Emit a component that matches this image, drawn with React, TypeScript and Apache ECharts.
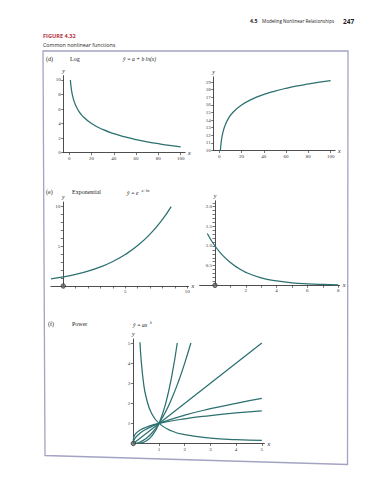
import React, { useEffect, useRef } from 'react';
import * as echarts from 'echarts';

// ---- data ----
const logX = [1, 1.2, 1.5, 2, 3, 5, 8, 12, 20, 30, 40, 50, 60, 70, 80, 90, 100];
const logFalling = [10, 9.64, 9.19, 8.61, 7.8, 6.78, 5.84, 5.03, 4.01, 3.2, 2.62, 2.18, 1.81, 1.5, 1.24, 1.0, 0.79];
const logRising = [10, 10.36, 10.81, 11.39, 12.2, 13.22, 14.16, 14.97, 15.99, 16.8, 17.38, 17.82, 18.19, 18.5, 18.76, 19.0, 19.21];

const expGrowX = [-1, 0, 1, 2, 3, 4, 5, 6, 7, 8, 8.7];
const expGrowY = [0.88, 1.13, 1.45, 1.86, 2.39, 3.07, 3.94, 5.05, 6.49, 8.33, 9.93];
const expDecayX = [-0.5, 0, 0.5, 1, 1.5, 2, 3, 4, 5, 6, 7, 8];
const expDecayY = [1.32, 1.0, 0.76, 0.58, 0.44, 0.33, 0.19, 0.11, 0.064, 0.037, 0.021, 0.012];

const powCubeX = [0, 0.25, 0.5, 0.75, 1, 1.25, 1.5, 1.71];
const powCubeY = [0, 0.016, 0.125, 0.42, 1, 1.95, 3.38, 5.0];
const powSquareX = [0, 0.25, 0.5, 0.75, 1, 1.25, 1.5, 1.75, 2, 2.24];
const powSquareY = [0, 0.063, 0.25, 0.56, 1, 1.56, 2.25, 3.06, 4, 5.0];
const powLinearX = [0, 1, 5];
const powLinearY = [0, 1, 5];
const powRootX = [0, 0.02, 0.1, 0.25, 0.5, 1, 2, 3, 4, 5];
const powRootY = [0, 0.14, 0.32, 0.5, 0.71, 1, 1.41, 1.73, 2, 2.24];
const powFlatX = [0, 0.005, 0.02, 0.1, 0.25, 0.5, 1, 2, 3, 4, 5];
const powFlatY = [0, 0.2, 0.31, 0.5, 0.66, 0.81, 1, 1.23, 1.39, 1.52, 1.62];
const powInvX = [0.26, 0.3, 0.4, 0.5, 0.7, 1, 1.5, 2, 3, 4, 5];
const powInvY = [5.04, 4.24, 3.0, 2.3, 1.53, 1, 0.62, 0.44, 0.27, 0.19, 0.15];

// tick labels
const logXLabels = [0, 20, 40, 60, 80, 100];
const logLeftYLabels = [0, 2, 4, 6, 8, 10];
const logRightYLabels = [10, 11, 12, 13, 14, 15, 16, 17, 18, 19];
const expLeftLabels = [5, 10];
const expUnitTicks = [1, 2, 3, 4, 5, 6, 7, 8, 9, 10];
const expRightXLabels = [2, 4, 6, 8];
const expRightXTicks = [1, 2, 3, 4, 5, 6, 7, 8];
const expRightYLabels = [0.5, 1.0, 1.5, 2.0];
const expRightYTicks = [0.1, 0.2, 0.3, 0.4, 0.5, 0.6, 0.7, 0.8, 0.9, 1.0, 1.1, 1.2, 1.3, 1.4, 1.5, 1.6, 1.7, 1.8, 1.9, 2.0, 2.1];
const powLabels = [1, 2, 3, 4, 5];

const CURVE = '#2c7070';
const AXIS = '#3a3a3a';
const SERIF = '"Liberation Serif", "DejaVu Serif", serif';
const SANS = '"Open Sans", "Noto Sans", sans-serif';

const zip = (xs: number[], ys: number[]) => xs.map((x, i) => [x, ys[i]]);

function axis(
  idx: number,
  dir: 'x' | 'y',
  min: number,
  max: number,
  labels: number[],
  ticks: number[],
  onZero: boolean,
  offset = 0,
  fmt?: (v: number) => string
) {
  return {
    type: 'value',
    gridIndex: idx,
    min,
    max,
    offset,
    name: dir,
    nameLocation: 'end',
    nameGap: dir === 'x' ? 3 : 2,
    nameTextStyle: { fontFamily: SERIF, fontStyle: 'italic', fontSize: 6, color: '#222' },
    axisLine: { show: true, onZero, lineStyle: { color: AXIS, width: 0.9 } },
    axisTick: { show: true, length: 2.5, customValues: ticks, lineStyle: { color: AXIS, width: 0.7 } },
    axisLabel: {
      show: true,
      customValues: labels,
      fontFamily: SERIF,
      fontSize: 5,
      color: '#333',
      margin: 3,
      formatter: fmt ? (v: number) => fmt(v) : (v: number) => String(v),
    },
    splitLine: { show: false },
  };
}

function curve(xi: number, xs: number[], ys: number[]) {
  return {
    type: 'line',
    xAxisIndex: xi,
    yAxisIndex: xi,
    data: zip(xs, ys),
    showSymbol: false,
    smooth: true,
    lineStyle: { color: CURVE, width: 1.25 },
    silent: true,
  };
}

function originDot(xi: number) {
  return {
    type: 'scatter',
    xAxisIndex: xi,
    yAxisIndex: xi,
    data: [[0, 0]],
    symbolSize: 4.5,
    clip: false,
    itemStyle: { color: '#6a6a6a', borderColor: '#222', borderWidth: 0.8 },
    silent: true,
    z: 5,
  };
}

function txt(x: number, y: number, text: string, fontSize: number, opts: any = {}) {
  return {
    type: 'text',
    x,
    y,
    style: {
      text,
      fontSize,
      fontFamily: opts.fontFamily || SERIF,
      fontStyle: opts.fontStyle || 'normal',
      fontWeight: opts.fontWeight || 'normal',
      fill: opts.fill || '#222',
      verticalAlign: 'middle',
      align: opts.align || 'left',
    },
    silent: true,
  };
}

export default function App() {
  const ref = useRef<HTMLDivElement>(null);
  useEffect(() => {
    if (!ref.current) return;
    const chart = echarts.init(ref.current, undefined, { renderer: 'svg' });
    const option: any = {
      animation: false,
      backgroundColor: '#ffffff',
      grid: [
        { left: 63.7, top: 75.6, width: 121.4, height: 77.1, outerBoundsMode: 'none' },
        { left: 213.7, top: 76.8, width: 121.4, height: 73.7, outerBoundsMode: 'none' },
        { left: 50.9, top: 202, width: 137.6, height: 84, outerBoundsMode: 'none' },
        { left: 199.6, top: 200.8, width: 140.1, height: 84.5, outerBoundsMode: 'none' },
        { left: 133.3, top: 339, width: 131.1, height: 104.5, outerBoundsMode: 'none' },
      ],
      xAxis: [
        axis(0, 'x', -5, 104, logXLabels, logXLabels, false),
        axis(1, 'x', -5, 104, logXLabels, logXLabels, false),
        axis(2, 'x', -1, 10.1, expLeftLabels, expUnitTicks, false),
        axis(3, 'x', -1, 8.1, expRightXLabels, expRightXTicks, false),
        axis(4, 'x', 0, 5.1, powLabels, powLabels, false),
      ],
      yAxis: [
        axis(0, 'y', 0, 10.6, logLeftYLabels, logLeftYLabels, false),
        axis(1, 'y', 10, 19.7, logRightYLabels, logRightYLabels, false),
        axis(2, 'y', 0, 10.5, expLeftLabels, expUnitTicks, false, -12.4),
        axis(3, 'y', 0, 2.15, expRightYLabels, expRightYTicks, false, -15.4, (v) => v.toFixed(1)),
        axis(4, 'y', 0, 5.2, powLabels, powLabels, false),
      ],
      series: [
        curve(0, logX, logFalling),
        curve(1, logX, logRising),
        curve(2, expGrowX, expGrowY),
        curve(3, expDecayX, expDecayY),
        curve(4, powCubeX, powCubeY),
        curve(4, powSquareX, powSquareY),
        curve(4, powLinearX, powLinearY),
        curve(4, powRootX, powRootY),
        curve(4, powFlatX, powFlatY),
        curve(4, powInvX, powInvY),
        originDot(2),
        originDot(3),
        originDot(4),
      ],
      graphic: [
        // page header
        txt(250, 21, '4.5', 5.2, { fontFamily: SANS, fontWeight: 'bold' }),
        txt(262, 21, 'Modeling Nonlinear Relationships', 4.6, { fontFamily: SANS }),
        txt(343, 21, '247', 6.5, { fontFamily: SANS, fontWeight: 'bold' }),
        txt(43, 36, 'FIGURE 4.32', 5.6, { fontFamily: SANS, fontWeight: 'bold', fill: '#b0323c' }),
        txt(43, 45, 'Common nonlinear functions', 5.3, { fontFamily: SANS }),
        // frame
        {
          type: 'polygon',
          shape: { points: [[43, 51], [348, 51], [347.5, 464.5], [45, 455.5]] },
          style: { fill: 'none', stroke: '#a3a3c4', lineWidth: 1.3 },
          silent: true,
        },
        // panel titles
        txt(46, 58.5, '(d)', 6),
        txt(70, 58.5, 'Log', 6),
        txt(123, 58.5, 'ŷ = a + b ln(x)', 5.6, { fontStyle: 'italic' }),
        txt(46, 192, '(e)', 6),
        txt(72, 192, 'Exponential', 6),
        txt(127, 192.5, 'ŷ = e', 5.6, { fontStyle: 'italic' }),
        txt(141.5, 190.5, 'a+bx', 3.8, { fontStyle: 'italic' }),
        txt(48, 324, '(f)', 6),
        txt(72, 324, 'Power', 6),
        txt(133, 325, 'ŷ = ax', 5.6, { fontStyle: 'italic' }),
        txt(150, 323, 'b', 3.8, { fontStyle: 'italic' }),
      ],
    };
    chart.setOption(option);
    return () => chart.dispose();
  }, []);
  return (
    <div
      ref={ref}
      style={{ position: 'fixed', left: 0, top: 0, width: 371, height: 480, background: '#fff' }}
    />
  );
}
